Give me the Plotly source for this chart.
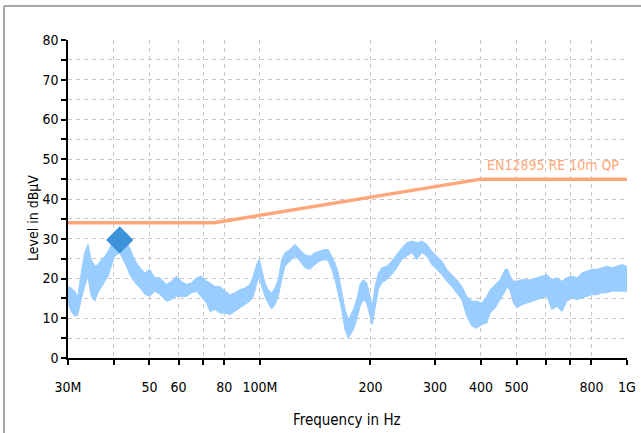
import plotly.graph_objects as go

# ---- data ----
freq_mhz = [30.0, 30.6, 31.3, 31.9, 32.6, 33.3, 34.0, 34.7, 35.5, 36.2, 37.0, 37.8, 38.6, 39.4, 40.2,
            41.5, 43.3, 44.2, 45.1, 46.1, 47.6, 48.6, 50.1, 51.7, 53.4, 55.6, 57.4, 59.3, 61.1, 63.1,
            65.1, 67.2, 69.3, 71.6, 73.1, 75.4, 77.8, 80.3, 82.8, 85.5, 88.2, 91.0, 93.9, 95.9, 97.9,
            99.6, 101.1, 103.2, 105.3, 107.6, 109.9, 112.2, 114.6, 117.0, 120.7, 124.6, 128.5, 132.6,
            136.9, 141.2, 145.7, 150.4, 153.5, 156.9, 160.2, 163.5, 167.0, 170.5, 174.1, 179.7, 183.5,
            187.4, 191.3, 195.4, 199.5, 202.4, 205.9, 210.2, 214.7, 221.6, 228.7, 236.0, 243.5, 251.3,
            259.3, 267.5, 276.1, 284.9, 293.8, 303.2, 312.9, 322.9, 333.2, 343.8, 354.8, 366.1, 377.8,
            389.9, 402.3, 415.1, 423.8, 437.4, 451.3, 465.7, 472.5, 480.6, 490.6, 501.2, 517.2, 533.7,
            550.7, 568.3, 586.4, 605.1, 624.4, 644.3, 664.9, 686.1, 708.0, 730.5, 753.8, 777.8, 802.6,
            828.2, 854.6, 881.8, 909.9, 938.9, 968.9, 1000.0]
level_upper = [18.0, 17.6, 16.8, 15.5, 21.4, 26.5, 28.6, 24.8, 23.1, 23.5, 24.8, 25.6, 26.9, 28.6, 31.0,
               31.5, 29.0, 27.7, 25.6, 23.9, 22.3, 21.4, 22.3, 20.2, 20.2, 18.5, 19.3, 20.6, 19.3, 18.5,
               18.9, 20.2, 20.6, 19.3, 18.9, 18.0, 18.0, 16.8, 15.9, 16.4, 17.2, 17.6, 18.5, 20.6, 23.5,
               24.9, 22.3, 18.9, 17.2, 16.4, 17.6, 19.7, 24.8, 26.5, 27.3, 28.6, 27.3, 26.0, 25.6, 26.5,
               26.9, 27.3, 27.3, 25.6, 23.9, 21.4, 17.2, 12.2, 9.6, 12.2, 14.7, 18.5, 19.7, 18.9, 15.5,
               13.0, 18.0, 21.4, 22.7, 23.1, 24.4, 26.0, 27.7, 29.0, 29.4, 29.0, 29.4, 28.6, 26.9, 25.6,
               24.4, 22.3, 21.0, 19.7, 18.0, 15.5, 14.3, 14.3, 13.8, 15.5, 17.2, 18.5, 19.7, 22.3, 22.4,
               20.6, 19.3, 19.3, 19.7, 19.7, 19.7, 20.2, 20.6, 21.0, 19.7, 20.2, 19.3, 20.2, 20.6, 20.2,
               21.4, 21.8, 22.3, 22.3, 22.7, 23.1, 22.7, 23.1, 23.5, 23.1]
level_lower = [13.8, 11.7, 10.5, 10.8, 14.7, 18.0, 20.6, 15.5, 14.3, 16.4, 18.0, 19.3, 20.6, 23.1, 25.6,
               26.5, 23.0, 21.0, 19.7, 18.5, 17.2, 16.0, 15.5, 16.8, 16.0, 14.3, 14.7, 15.5, 15.5, 15.5,
               16.4, 16.8, 15.5, 13.8, 11.7, 12.2, 11.3, 11.3, 10.9, 11.7, 12.6, 13.4, 14.3, 15.5, 18.5,
               20.6, 18.0, 15.5, 13.8, 12.3, 13.4, 15.5, 19.7, 23.1, 24.4, 25.6, 24.4, 22.7, 22.3, 23.5,
               24.4, 24.8, 24.4, 22.3, 19.7, 16.4, 12.2, 7.1, 5.0, 7.1, 9.6, 13.0, 14.7, 13.8, 10.5,
               8.4, 12.2, 17.2, 18.9, 19.7, 21.0, 22.7, 24.8, 25.6, 26.5, 24.8, 26.5, 25.6, 23.5, 22.3,
               21.0, 19.3, 18.0, 16.4, 14.7, 10.5, 8.0, 7.5, 8.4, 8.8, 11.3, 12.6, 14.7, 16.8, 18.0,
               16.8, 13.8, 12.6, 13.4, 13.8, 14.3, 14.7, 15.1, 15.5, 12.2, 13.0, 11.7, 14.3, 15.1, 14.7,
               15.1, 15.5, 15.9, 15.9, 16.4, 16.4, 16.8, 16.8, 16.8, 16.8]

limit_freq_mhz = [30, 75, 400, 1000]
limit_level = [34, 34, 45, 45]
limit_name = "EN12895 RE 10m QP"

peak_freq_mhz = [41.5]
peak_level = [29.7]

x_tickvals = [30, 40, 50, 60, 70, 80, 100, 200, 300, 400, 500, 600, 700, 800, 1000]
x_ticktext = ["30M", "", "50", "60", "", "80", "100M", "200", "300", "400", "500", "", "", "800", "1G"]
y_tickvals = list(range(0, 81, 5))
y_ticktext = [str(v) if v % 10 == 0 else "" for v in y_tickvals]

FONT = "DejaVu Sans Condensed, Liberation Sans Narrow, Liberation Sans, sans-serif"
TRACE_BLUE = "#99CCFF"
LIMIT_ORANGE = "#FFA77A"
GRID = "#C6C6C6"

fig = go.Figure()

# measured band: upper envelope then lower envelope reversed -> filled polygon
fig.add_trace(go.Scatter(
    x=freq_mhz + freq_mhz[::-1],
    y=level_upper + level_lower[::-1],
    fill="toself", fillcolor=TRACE_BLUE,
    line=dict(color=TRACE_BLUE, width=1),
    mode="lines", hoverinfo="skip", showlegend=False,
))

fig.add_trace(go.Scatter(
    x=limit_freq_mhz, y=limit_level, mode="lines",
    line=dict(color=LIMIT_ORANGE, width=3.5), showlegend=False,
))

fig.add_trace(go.Scatter(
    x=peak_freq_mhz, y=peak_level, mode="markers",
    marker=dict(symbol="diamond", size=21, color="#3D93DA", line=dict(width=0)),
    showlegend=False,
))

W, H = 641, 433
L, R, T, B = 68, 14, 40, 75
pw, ph = W - L - R, H - T - B


def px(x):
    return (x - L) / pw


def py(y):
    return (H - B - y) / ph


fig.update_layout(
    width=W, height=H,
    margin=dict(l=L, r=R, t=T, b=B, autoexpand=False),
    paper_bgcolor="white", plot_bgcolor="white",
    font=dict(family=FONT, size=14, color="black"),
    xaxis=dict(
        type="log", range=[1.4771213, 3.0],
        tickvals=x_tickvals, ticktext=x_ticktext,
        showgrid=True, gridcolor=GRID, griddash="4px,4px", gridwidth=1,
        showline=True, linecolor="black", linewidth=1.5,
        ticks="outside", ticklen=5, tickcolor="black", tickwidth=1.5,
        ticklabelstandoff=10, zeroline=False, automargin=False,
        tickfont=dict(family=FONT, size=14),
    ),
    yaxis=dict(
        range=[0, 80], tickvals=y_tickvals, ticktext=y_ticktext,
        showgrid=True, gridcolor=GRID, griddash="4px,4px", gridwidth=1,
        showline=True, linecolor="black", linewidth=1.5,
        ticks="outside", ticklen=5, tickcolor="black", tickwidth=1.5,
        zeroline=False, automargin=False, tickfont=dict(family=FONT, size=14),
    ),
    annotations=[
        dict(text="Frequency in Hz", xref="paper", yref="paper", x=px(347), y=py(420),
             xanchor="center", yanchor="middle", showarrow=False,
             font=dict(family=FONT, size=15)),
        dict(text="Level in dBµV", xref="paper", yref="paper", x=px(33), y=py(218),
             xanchor="center", yanchor="middle", showarrow=False, textangle=-90,
             font=dict(family=FONT, size=14)),
        dict(text=limit_name, xref="paper", yref="paper", x=px(621), y=py(165),
             xanchor="right", yanchor="middle", showarrow=False,
             font=dict(family=FONT, size=14, color=LIMIT_ORANGE)),
    ],
    shapes=[
        dict(type="line", xref="paper", yref="paper", x0=px(4), x1=px(641), y0=py(6), y1=py(6),
             line=dict(color="#A8A8A8", width=2)),
        dict(type="line", xref="paper", yref="paper", x0=px(4), x1=px(4), y0=py(6), y1=py(434),
             line=dict(color="#A8A8A8", width=2)),
    ],
)

fig.write_html("out.html", config={"displayModeBar": False},
               post_script="document.body.style.margin='0';document.body.style.overflow='hidden';")
